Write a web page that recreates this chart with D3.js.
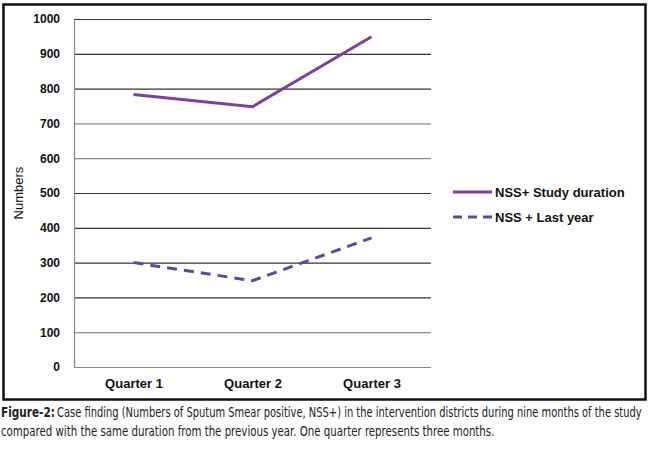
<!DOCTYPE html>
<html>
<head>
<meta charset="utf-8">
<script src="https://cdn.jsdelivr.net/npm/d3@7"></script>
<style>
    body { margin: 0; background: #fff; }
    svg { display: block; }
</style>
</head>
<body>
<div id="chart"></div>
<script>
const quarters = ["Quarter 1", "Quarter 2", "Quarter 3"];
const studyDuration = [783, 748, 949];
const lastYear = [300, 248, 371];
const yTicks = [0, 100, 200, 300, 400, 500, 600, 700, 800, 900, 1000];

const dim = { width: 650, height: 449 };
const plot = { left: 74, right: 431, top: 19, bottom: 367 };

const svg = d3.select("#chart").append("svg")
    .attr("width", dim.width)
    .attr("height", dim.height);

// outer frame
svg.append("rect")
    .attr("x", 3.5).attr("y", 4.5)
    .attr("width", 642).attr("height", 395)
    .attr("fill", "none")
    .attr("stroke", "#111")
    .attr("stroke-width", 2.5);

const xScale = d3.scalePoint()
    .domain(quarters)
    .range([plot.left, plot.right])
    .padding(0.5);

const yScale = d3.scaleLinear()
    .domain([0, 1000])
    .range([plot.bottom, plot.top]);

// gridlines
svg.append("g")
    .selectAll("line")
    .data(yTicks.filter(d => d > 0))
    .enter().append("line")
    .attr("x1", plot.left)
    .attr("x2", plot.right)
    .attr("y1", d => yScale(d) + 0.5)
    .attr("y2", d => yScale(d) + 0.5)
    .attr("stroke", d => (d === 600 || d === 700 || d === 100) ? "#8a8a8a" : "#333")
    .attr("stroke-width", 1.2);

// y axis
const yAxis = svg.append("g")
    .attr("transform", `translate(${plot.left},0)`)
    .call(d3.axisLeft(yScale).tickValues(yTicks).tickFormat(d3.format("d")).tickSize(0).tickPadding(14));
yAxis.select(".domain").attr("stroke", "#888").attr("stroke-width", 1.2);
yAxis.selectAll("text")
    .attr("font-family", "Liberation Sans, Arial, sans-serif")
    .attr("font-size", 12)
    .attr("font-weight", "bold")
    .attr("fill", "#111");

// x axis
const xAxis = svg.append("g")
    .attr("transform", `translate(0,${plot.bottom})`)
    .call(d3.axisBottom(xScale).tickSize(0).tickPadding(12));
xAxis.select(".domain")
    .attr("d", `M${plot.left},0.5H${plot.right}`)
    .attr("stroke", "#888").attr("stroke-width", 1.2);
xAxis.selectAll("text")
    .attr("font-family", "Liberation Sans, Arial, sans-serif")
    .attr("font-size", 13)
    .attr("font-weight", "bold")
    .attr("fill", "#111");

// y axis title
svg.append("text")
    .attr("transform", "translate(23,193) rotate(-90)")
    .attr("text-anchor", "middle")
    .attr("font-family", "Liberation Sans, Arial, sans-serif")
    .attr("font-size", 13)
    .attr("fill", "#111")
    .text("Numbers");

const line = d3.line()
    .x((d, i) => xScale(quarters[i]))
    .y(d => yScale(d));

svg.append("path")
    .datum(studyDuration)
    .attr("d", line)
    .attr("fill", "none")
    .attr("stroke", "#7b3fa2")
    .attr("stroke-width", 3);

svg.append("path")
    .datum(lastYear)
    .attr("d", line)
    .attr("fill", "none")
    .attr("stroke", "#5b4a9f")
    .attr("stroke-width", 3)
    .attr("stroke-dasharray", "10,7");

// legend
const legendItems = [
    { label: "NSS+ Study duration", color: "#7b3fa2", dash: null },
    { label: "NSS + Last year", color: "#5b4a9f", dash: "9,6" }
];

const legend = svg.append("g");
legendItems.forEach((item, i) => {
    const y = 192 + i * 25;
    legend.append("line")
        .attr("x1", 453).attr("x2", 492)
        .attr("y1", y).attr("y2", y)
        .attr("stroke", item.color)
        .attr("stroke-width", 3)
        .attr("stroke-dasharray", item.dash);
    legend.append("text")
        .attr("x", 495).attr("y", y + 5)
        .attr("font-family", "Liberation Sans, Arial, sans-serif")
        .attr("font-size", 13)
        .attr("font-weight", "bold")
        .attr("fill", "#111")
        .text(item.label);
});

// caption: squeeze each piece horizontally to the width it has in the figure
const capFont = "'DejaVu Sans Condensed', 'Liberation Sans Narrow', sans-serif";
const caption = [
    { x: 1, y: 417, len: 54, bold: true, text: "Figure-2:" },
    { x: 57, y: 417, len: 585, bold: false, text: "Case finding (Numbers of Sputum Smear positive, NSS+) in the intervention districts during nine months of the study" },
    { x: 1, y: 436, len: 494, bold: false, text: "compared with the same duration from the previous year. One quarter represents three months." }
];
svg.append("g")
    .selectAll("text")
    .data(caption)
    .enter().append("text")
    .attr("font-family", capFont)
    .attr("font-size", 14)
    .attr("font-weight", d => d.bold ? "bold" : "normal")
    .attr("fill", "#222")
    .text(d => d.text)
    .each(function(d) {
        const w = this.getComputedTextLength();
        d3.select(this).attr("transform", `translate(${d.x},${d.y}) scale(${d.len / w},1)`);
    });
</script>
</body>
</html>
